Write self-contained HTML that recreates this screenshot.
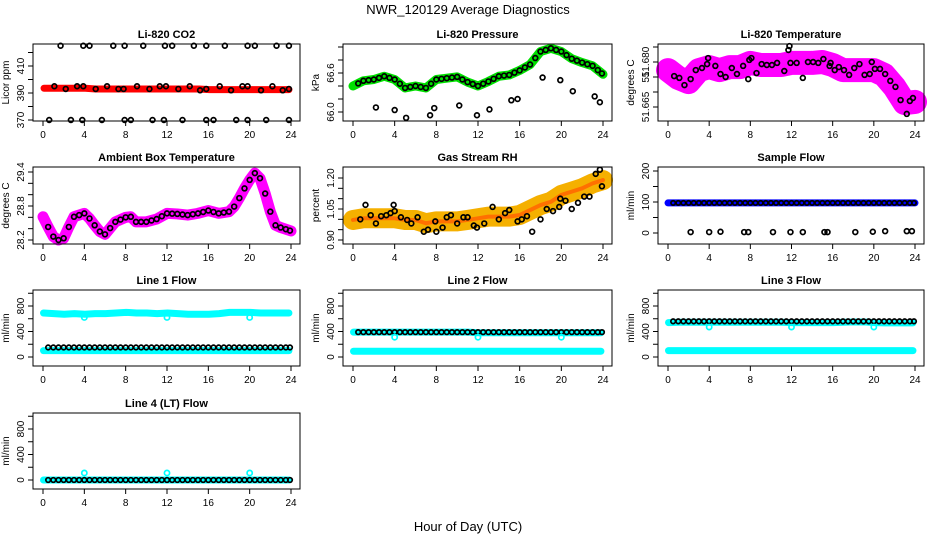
<!DOCTYPE html>
<html><head><meta charset="utf-8"><style>
body{margin:0;background:#fff;}
svg{display:block;font-family:"Liberation Sans",sans-serif;}
</style></head><body>
<svg id="c" width="936" height="540">
<text x="468" y="14" text-anchor="middle" font-size="13">NWR_120129  Average Diagnostics</text>
<text x="468" y="531" text-anchor="middle" font-size="13">Hour of Day (UTC)</text>
</svg>
<script>
// ---------- data ----------
const hourTicks = [0,4,8,12,16,20,24];
const halfHours = [0.5,1,1.5,2,2.5,3,3.5,4,4.5,5,5.5,6,6.5,7,7.5,8,8.5,9,9.5,10,10.5,11,11.5,12,12.5,13,13.5,14,14.5,15,15.5,16,16.5,17,17.5,18,18.5,19,19.5,20,20.5,21,21.5,22,22.5,23,23.5,23.9];
const hourly = [0,1,2,3,4,5,6,7,8,9,10,11,12,13,14,15,16,17,18,19,20,21,22,23,24];

const co2Band = [393.5,393.5,393.5,393.5,393.5,393,393,393,393,393,393,393,393,393,393,393,392.5,392.5,392.5,392.5,392.5,392.5,392.5,392.5,392.5];
const co2HighHours = [1.7,3.9,4.5,6.8,7.9,9.7,11.8,12.5,14.6,15.8,17.6,19.8,20.5,22.6,23.8];
const co2HighVals = [425,425,425,425,425,425,425,425,425,425,425,425,425,425,425];
const co2LowHours = [0.6,2.7,3.8,5.7,7.9,8.5,10.6,11.7,13.5,15.8,16.5,18.7,19.8,21.6,23.8];
const co2LowVals = [370,370,370,370,370,370,370,370,370,370,370,370,370,370,370];
const co2MidHours = [1.1,2.2,3.3,3.9,5.1,6.2,7.3,7.8,9.1,10.3,11.3,11.9,13.1,14.2,15.2,15.8,17.1,18.2,19.3,19.8,21.1,22.2,23.2,23.8];
const co2MidVals = [395,393,395,395,393,395,393,393,395,393,395,395,393,395,392,393,395,392,395,395,392,395,392,393];

const presBand = [66.4,66.48,66.5,66.55,66.5,66.37,66.4,66.37,66.5,66.52,66.54,66.46,66.4,66.47,66.55,66.57,66.64,66.73,66.93,66.98,66.93,66.82,66.76,66.71,66.58];
const presLowHours = [2.2,4,5.1,7.4,7.8,10.2,11.9,13.1,15.2,15.8,18.2,19.9,21.1,23.2,23.7];
const presLowVals = [66.07,66.03,65.91,65.95,66.06,66.1,65.95,66.04,66.18,66.2,66.53,66.49,66.32,66.24,66.15];

const tempBand = [51.6773,51.6747,51.6733,51.6773,51.6783,51.6773,51.6783,51.6783,51.6797,51.679,51.679,51.679,51.6797,51.6797,51.6797,51.680,51.679,51.6773,51.6773,51.6773,51.6773,51.6757,51.6717,51.6663,51.6667];
const tempDotHours = [0.6,1.1,1.6,2.2,2.7,3.3,3.8,3.9,4.6,5.1,5.6,6.2,6.7,7.3,7.8,7.9,8.1,8.6,9.1,9.6,10.1,10.6,11.3,11.7,11.8,11.9,12.5,13.1,13.6,14.1,14.6,15.1,15.7,15.8,16.2,16.6,17.1,17.6,18.1,18.6,19.1,19.6,19.8,20.1,20.6,21.1,21.6,22.1,22.6,23.2,23.5,23.8];
const tempDotVals = [51.6753,51.6747,51.6723,51.6743,51.6773,51.678,51.6793,51.6813,51.6787,51.676,51.675,51.678,51.676,51.6787,51.6743,51.6807,51.6813,51.6763,51.6793,51.679,51.679,51.6797,51.677,51.684,51.6853,51.6797,51.6797,51.6747,51.680,51.680,51.6797,51.681,51.6787,51.6797,51.6773,51.6783,51.6773,51.6757,51.678,51.6793,51.6757,51.676,51.680,51.6777,51.6777,51.676,51.6737,51.6717,51.6673,51.6627,51.667,51.668];

const ambHours = [0,0.5,1,1.5,2,2.5,3,4,4.5,5,5.5,6,6.5,7,8,8.5,9,10,11,12,13,14,15,16,17,18,18.5,19,19.5,20,20.5,21,21.5,22,22.5,23,24];
const ambVals = [28.61,28.43,28.26,28.2,28.23,28.43,28.61,28.67,28.58,28.46,28.35,28.3,28.41,28.52,28.6,28.61,28.52,28.52,28.57,28.67,28.66,28.64,28.67,28.72,28.67,28.7,28.79,28.94,29.11,29.26,29.38,29.29,29.02,28.7,28.46,28.42,28.36];

const rhBand = [0.997,1.005,1.005,1.005,1.005,0.997,0.997,0.981,0.99,0.99,0.99,0.997,1.005,1.013,1.013,1.013,1.021,1.045,1.069,1.085,1.118,1.134,1.15,1.174,1.19];
const rhDotHours = [0.7,1.2,1.7,2.2,2.7,3.2,3.6,3.9,4.0,4.6,5.2,5.6,6.2,6.8,7.2,7.9,8.0,8.6,9.0,9.4,10.0,10.6,11.0,11.6,11.9,12.6,13.4,14.0,14.6,15.0,15.8,16.2,16.7,17.2,18.0,18.6,19.2,19.8,19.9,20.4,21.0,21.6,22.2,22.7,23.3,23.7,23.9];
const rhDotVals = [1.0,1.07,1.02,0.98,1.015,1.02,1.03,1.07,1.04,1.01,0.997,0.98,1.01,0.94,0.95,0.99,0.94,0.96,1.01,1.02,0.98,1.01,1.01,0.97,0.96,0.98,1.06,1.0,1.03,1.045,0.99,1.0,1.015,0.94,1.0,1.05,1.04,1.06,1.1,1.09,1.05,1.08,1.11,1.11,1.22,1.24,1.16];

const sampleBand = [97,97,97,97,97,97,97,97,97,97,97,97,97,97,97,97,97,97,97,97,97,97,97,97,97];
const sampleLowHours = [2.2,4,5.1,7.4,7.8,10.2,11.9,13.1,15.2,15.5,18.2,19.9,21.1,23.2,23.7];
const sampleLowVals = [3,3,4,3,3,3,3,3,3,3,3,4,6,6,6];

const dipHours = [4,12,20];
const l1Upper = [690,680,670,680,670,680,680,690,700,690,690,680,690,680,670,670,670,680,700,700,700,690,690,690,690];
const l1Lower = [100,100,100,100,100,100,100,100,100,100,100,100,100,100,100,100,100,100,100,100,100,100,100,100,100];
const l1Black = 150;
const l1Dips = [620,620,620];
const l2Upper = [390,390,390,390,390,390,390,390,390,390,390,390,380,380,380,380,380,380,380,380,380,380,380,380,380];
const l2Lower = [90,90,90,90,90,90,90,90,90,90,90,90,90,90,90,90,90,90,90,90,90,90,90,90,90];
const l2Black = 390;
const l2Dips = [310,310,310];
const l3Upper = [540,545,545,545,545,545,545,545,545,545,545,545,540,540,540,540,540,545,550,550,540,535,535,535,535];
const l3Lower = [100,100,100,100,100,100,100,100,100,100,100,100,100,100,100,100,100,100,100,100,100,100,100,100,100];
const l3Black = 560;
const l3Dips = [470,470,470];
const l4Lower = [0,0,0,0,0,0,0,0,0,0,0,0,0,0,0,0,0,0,0,0,0,0,0,0,0];
const l4Black = 0;
const l4Dips = [110,110,110];

// ---------- drawing ----------
const svg = document.getElementById('c');
const NS = 'http://www.w3.org/2000/svg';
function el(tag, attrs, parent){const e=document.createElementNS(NS,tag);for(const k in attrs)e.setAttribute(k,attrs[k]);(parent||svg).appendChild(e);return e;}

function panel(o){
  const g = el('g',{});
  
  
  const L=o.l,R=o.r,T=o.t,B=o.b;
  const x0=L+10,x24=R-9;
  const X=h=>x0+(x24-x0)*h/24;
  const Y=v=>o.y1+(o.y2-o.y1)*(v-o.v1)/(o.v2-o.v1);
  o.draw(g,X,Y);
  el('rect',{x:L,y:T,width:R-L,height:B-T,fill:'none',stroke:'#000','stroke-width':1},g);
  const title=el('text',{x:(L+R)/2,y:T-6,'text-anchor':'middle','font-size':11,'font-weight':'bold'},g);
  title.textContent=o.title;
  
  
  el('line',{x1:X(0),x2:X(24),y1:B,y2:B,stroke:'#000'},g);
  hourTicks.forEach(h=>{
    el('line',{x1:X(h),x2:X(h),y1:B,y2:B+5,stroke:'#000'},g);
    const t=el('text',{x:X(h),y:B+17,'text-anchor':'middle','font-size':10},g);
    t.textContent=h;
    
    
  });
  el('line',{x1:L,x2:L,y1:Y(o.ticks[0]),y2:Y(o.ticks[o.ticks.length-1]),stroke:'#000'},g);
  o.ticks.forEach((v,i)=>{
    el('line',{x1:L-5,x2:L,y1:Y(v),y2:Y(v),stroke:'#000'},g);
    if(o.labels[i]!==''){
      const t=el('text',{x:0,y:0,'text-anchor':'middle','font-size':10,transform:`translate(${L-9},${Y(v)}) rotate(-90)`},g);
      t.textContent=o.labels[i];
      
      
    }
  });
  const yt=el('text',{x:0,y:0,'text-anchor':'middle','font-size':10,transform:`translate(${L-24},${(T+B)/2}) rotate(-90)`},g);
  yt.textContent=o.ylab;
  
  
}
function band(g,X,Y,hs,vs,color,w){
  const p=el('polyline',{points:hs.map((h,i)=>X(h)+','+Y(vs[i])).join(' '),fill:'none',stroke:color,'stroke-width':w,'stroke-linejoin':'round','stroke-linecap':'round'},g);
  
  
}
function dots(g,X,Y,hs,vs,color,r){
  hs.forEach((h,i)=>{
    const c=el('circle',{cx:X(h),cy:Y(vs[i]),r:r||2.4,fill:'none',stroke:color,'stroke-width':1.7},g);
    
    
  });
}
function interpAt(hs,vs,h){for(let i=1;i<hs.length;i++){if(h<=hs[i]){const f=(h-hs[i-1])/(hs[i]-hs[i-1]);return vs[i-1]+f*(vs[i]-vs[i-1]);}}return vs[vs.length-1];}
const c1={l:33,r:300},c2={l:343,r:612},c3={l:658,r:924};
const r1={t:44,b:121},r2={t:167,b:244},r3={t:290,b:366},r4={t:413,b:489};

panel({name:'co2-panel',title:'Li-820 CO2',ylab:'Licor ppm',...c1,...r1,v1:370,y1:120,v2:410,y2:66,
  ticks:[370,380,390,400,410,420],labels:['370','','390','','410',''],
  draw:(g,X,Y)=>{band(g,X,Y,hourly.slice(0,24).map(h=>h+0.1).concat([23.8]),co2Band,'#ff0000',7);
    dots(g,X,Y,co2HighHours,co2HighVals,'#000');dots(g,X,Y,co2LowHours,co2LowVals,'#000');dots(g,X,Y,co2MidHours,co2MidVals,'#000');}});

panel({name:'pressure-panel',title:'Li-820 Pressure',ylab:'kPa',...c2,...r1,v1:66.0,y1:112,v2:66.6,y2:73,
  ticks:[66.0,66.2,66.4,66.6,66.8,67.0],labels:['66.0','','','66.6','',''],
  draw:(g,X,Y)=>{band(g,X,Y,hourly,presBand,'#00e000',9);
    dots(g,X,Y,halfHours,halfHours.map(h=>interpAt(hourly,presBand,h)),'#000');
    dots(g,X,Y,presLowHours,presLowVals,'#000');}});

panel({name:'temperature-panel',title:'Li-820 Temperature',ylab:'degrees C',...c3,...r1,v1:51.665,y1:107,v2:51.680,y2:62,
  ticks:[51.665,51.670,51.675,51.680,51.685],labels:['51.665','','51','51.680',''],
  draw:(g,X,Y)=>{band(g,X,Y,hourly,tempBand,'#ff00ff',24);
    dots(g,X,Y,tempDotHours,tempDotVals,'#000');}});

panel({name:'ambient-temperature-panel',title:'Ambient Box Temperature',ylab:'degrees C',...c1,...r2,v1:28.2,y1:240,v2:29.4,y2:172,
  ticks:[28.2,28.4,28.6,28.8,29.0,29.2,29.4],labels:['28.2','','','28.8','','','29.4'],
  draw:(g,X,Y)=>{band(g,X,Y,ambHours,ambVals,'#ff00ff',11);
    dots(g,X,Y,halfHours,halfHours.map(h=>interpAt(ambHours,ambVals,h)),'#000');}});

panel({name:'rh-panel',title:'Gas Stream RH',ylab:'percent',...c2,...r2,v1:0.90,y1:240,v2:1.20,y2:178,
  ticks:[0.90,0.95,1.00,1.05,1.10,1.15,1.20],labels:['0.90','','','1.05','','','1.20'],
  draw:(g,X,Y)=>{band(g,X,Y,hourly,rhBand,'#f5b000',20);band(g,X,Y,hourly,rhBand,'#ff7000',4);
    dots(g,X,Y,rhDotHours,rhDotVals,'#000');}});

panel({name:'sample-flow-panel',title:'Sample Flow',ylab:'ml/min',...c3,...r2,v1:0,y1:233,v2:200,y2:171,
  ticks:[0,50,100,150,200],labels:['0','','100','','200'],
  draw:(g,X,Y)=>{band(g,X,Y,hourly,sampleBand,'#0000ff',7);
    dots(g,X,Y,halfHours,halfHours.map(()=>sampleBand[0]),'#000',2.2);
    dots(g,X,Y,sampleLowHours,sampleLowVals,'#000');}});

function flowPanel(name,title,c,r,zeroY,upper,lower,black,dips){
  panel({name:name,title:title,ylab:'ml/min',...c,...r,v1:0,y1:zeroY,v2:800,y2:zeroY-51,
    ticks:[0,200,400,600,800,1000],labels:['0','','400','','800',''],
    draw:(g,X,Y)=>{
      if(upper) band(g,X,Y,hourly.map(h=>Math.min(23.8,h+0.05)),upper,'#00ffff',7);
      band(g,X,Y,hourly.map(h=>Math.min(23.8,h+0.05)),lower,'#00ffff',7);
      dots(g,X,Y,halfHours,halfHours.map(()=>black),'#000',2.3);
      dots(g,X,Y,dipHours,dips,'#00ffff',2.6);}});
}
flowPanel('line1-flow-panel','Line 1 Flow',c1,r3,357,l1Upper,l1Lower,l1Black,l1Dips);
flowPanel('line2-flow-panel','Line 2 Flow',c2,r3,357,l2Upper,l2Lower,l2Black,l2Dips);
flowPanel('line3-flow-panel','Line 3 Flow',c3,r3,357,l3Upper,l3Lower,l3Black,l3Dips);
flowPanel('line4-flow-panel','Line 4 (LT) Flow',c1,r4,480,null,l4Lower,l4Black,l4Dips);
</script>
</body></html>
